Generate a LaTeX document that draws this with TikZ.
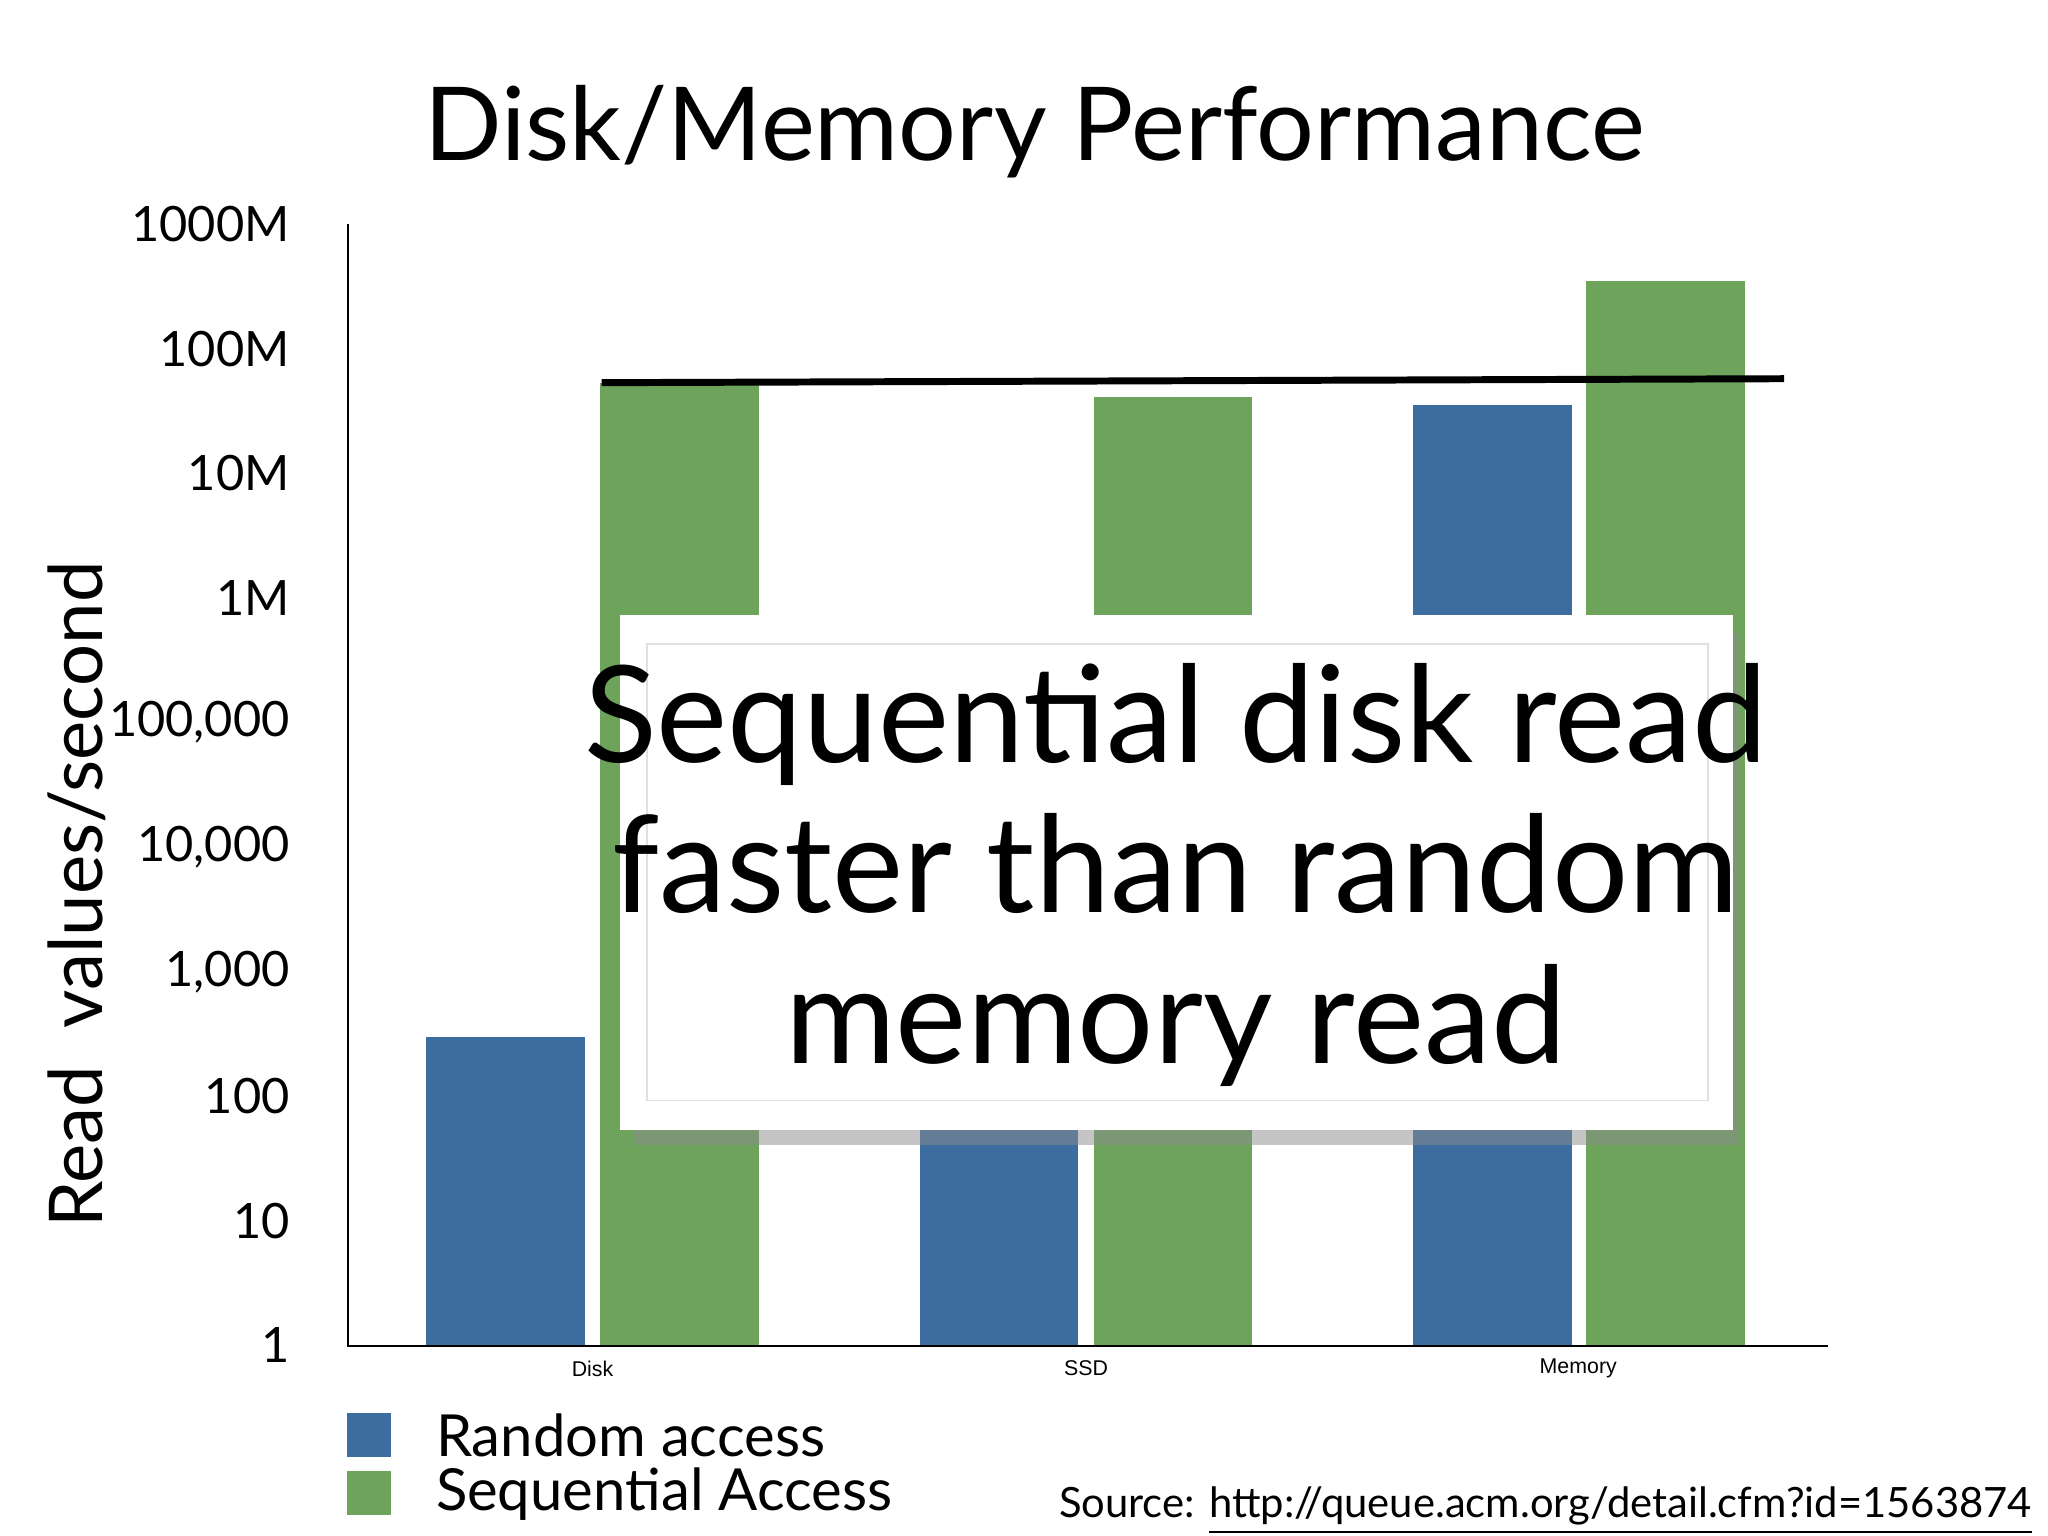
\documentclass[tikz,border=0pt]{standalone}
\usepackage{fontspec}
\setmainfont{Lato}
\newfontfamily\arialf{Liberation Sans}
\usetikzlibrary{shadows,calc}
\definecolor{rblue}{HTML}{3D6DA0}
\definecolor{sgreen}{HTML}{6DA35A}
\begin{document}
\begin{tikzpicture}[x=0.01cm,y=-0.01cm,
  rbar/.style={fill=rblue,draw=none},
  sbar/.style={fill=sgreen,draw=none},
  tick/.style={anchor=east,font=\fontsize{10.5}{12}\selectfont},
  cat/.style={font=\arialf\fontsize{4.6}{6}\selectfont},
  leg/.style={anchor=west,font=\fontsize{12.5}{14}\selectfont}]
\useasboundingbox[fill=white] (0,0) rectangle (1552,1164);
\node (title) at (784,100) {\fontsize{22}{26}\selectfont Disk/Memory Performance};
% bars
\fill[rbar] (323,1020) rectangle (443,786);
\fill[sbar] (455,1020) rectangle (575,290);
\fill[rbar] (697,1020) rectangle (817,600);
\fill[sbar] (829,1020) rectangle (949,301);
\fill[rbar] (1071,1020) rectangle (1191,307);
\fill[sbar] (1202,1020) rectangle (1322,213);
% axes
\draw[line width=0.4pt] (264,170) -- (264,1020) -- (1385,1020);
\foreach \t [count=\i from 0] in {1000M,100M,10M,1M,{100,000},{10,000},{1,000},100,10,1}
  \node[tick] (t\i) at (232,{170+94.4*\i}) {\t};
\node[cat] (cd) at (449,1037) {Disk};
\node[cat] (cs) at (823,1037) {SSD};
\node[cat] (cm) at (1196,1037) {Memory};
\node[rotate=90,font=\fontsize{16}{18}\selectfont] (yl) at (58,678) {Read\ \ values/second};
% line
\coordinate (la) at (456,290); \coordinate (lb) at (1352,287);
\draw[line width=1.5pt] (la) -- (lb);
% callout
\fill[black!45,opacity=0.5] (480,480) rectangle (1318,868);
\fill[white] (470,466) rectangle (1313,856);
\draw[black!12,line width=0.4pt] (490,488) rectangle (1294,834);
\node[align=center,font=\fontsize{29}{32.5}\selectfont] (msg) at (891,663)
 {Sequential disk read\\faster than random\\memory read};
% legend
\fill[rblue] (263,1071) rectangle (296,1104);
\fill[sgreen] (263,1115) rectangle (296,1148);
\node[leg] (l1) at (318,1088) {Random access};
\node[leg] (l2) at (318,1132) {Sequential Access};
\node[anchor=east,font=\fontsize{9}{11}\selectfont] (src) at (1552,1145) {Source: \underline{http://queue.acm.org/detail.cfm?id=1563874}};
\end{tikzpicture}
\end{document}
